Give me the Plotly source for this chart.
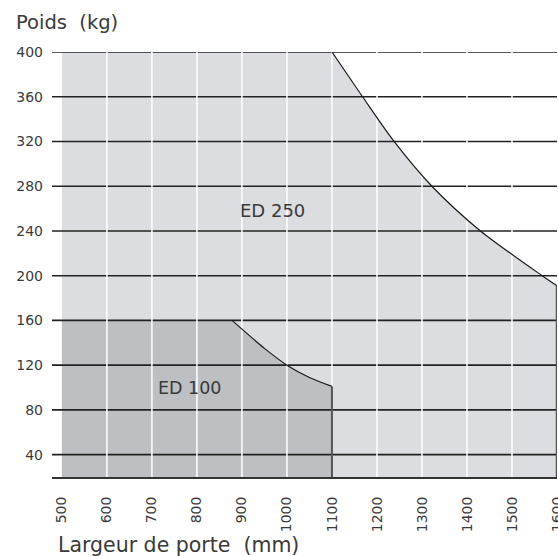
import plotly.graph_objects as go

# ---- data ----
x_ticks = [500, 600, 700, 800, 900, 1000, 1100, 1200, 1300, 1400, 1500, 1600]
y_ticks = [40, 80, 120, 160, 200, 240, 280, 320, 360, 400]

ed250_x = [500, 1100, 1168, 1238, 1322, 1430, 1567, 1600]
ed250_y = [400, 400, 360, 320, 280, 240, 200, 191]

ed100_x = [500, 878, 950, 1000, 1050, 1100]
ed100_y = [160, 160, 135, 120, 109, 101]

y_min, y_max = 20, 400
x_min, x_max = 478, 1600

label_250 = ("ED 250", 968, 258)
label_100 = ("ED 100", 785, 100)

FONT = "DejaVu Sans"
TXT = "#3a3a3a"

fig = go.Figure()


def add_area(xs, ys, color):
    # flat part (linear) and curved part (spline), both filled down to the axis
    fig.add_trace(go.Scatter(x=xs[:2], y=ys[:2], fill="tozeroy", fillcolor=color,
                             mode="lines", line=dict(width=0),
                             hoverinfo="skip", showlegend=False))
    fig.add_trace(go.Scatter(x=xs[1:], y=ys[1:], fill="tozeroy", fillcolor=color,
                             mode="lines", line=dict(width=0, shape="spline", smoothing=0.8),
                             hoverinfo="skip", showlegend=False))


add_area(ed250_x, ed250_y, "#dcdde0")
add_area(ed100_x, ed100_y, "#bebfc2")

# horizontal grid lines (drawn over fills)
hx, hy = [], []
for v in y_ticks:
    hx += [x_min, x_max, None]
    hy += [v, v, None]
fig.add_trace(go.Scatter(x=hx, y=hy, mode="lines",
                         line=dict(color="#222222", width=1.6),
                         hoverinfo="skip", showlegend=False))

# vertical white grid lines
vx, vy = [], []
for v in x_ticks[1:-1]:
    vx += [v, v, None]
    vy += [y_min, y_max, None]
fig.add_trace(go.Scatter(x=vx, y=vy, mode="lines",
                         line=dict(color="#ffffff", width=1.5),
                         hoverinfo="skip", showlegend=False))

# outlines
fig.add_trace(go.Scatter(x=ed250_x[1:], y=ed250_y[1:], mode="lines",
                         line=dict(color="#1a1a1a", width=1.2, shape="spline", smoothing=0.8),
                         hoverinfo="skip", showlegend=False))
fig.add_trace(go.Scatter(x=[ed250_x[-1], ed250_x[-1]], y=[ed250_y[-1], y_min],
                         mode="lines", line=dict(color="#555555", width=2.5),
                         hoverinfo="skip", showlegend=False))
fig.add_trace(go.Scatter(x=ed100_x[1:], y=ed100_y[1:], mode="lines",
                         line=dict(color="#1a1a1a", width=1.2, shape="spline", smoothing=0.8),
                         hoverinfo="skip", showlegend=False))
fig.add_trace(go.Scatter(x=[ed100_x[-1], ed100_x[-1]], y=[ed100_y[-1], y_min],
                         mode="lines", line=dict(color="#555555", width=2),
                         hoverinfo="skip", showlegend=False))

annotations = []
annotations.append(dict(x=label_250[1], y=label_250[2], xref="x", yref="y", text=label_250[0],
                        showarrow=False, font=dict(family=FONT, size=18, color=TXT)))
annotations.append(dict(x=label_100[1], y=label_100[2], xref="x", yref="y", text=label_100[0],
                        showarrow=False, font=dict(family=FONT, size=17.5, color=TXT)))
annotations.append(dict(xref="paper", yref="paper", x=-0.075, y=1.069,
                        xanchor="left", yanchor="middle", text="Poids&nbsp;&nbsp;(kg)",
                        showarrow=False, font=dict(family=FONT, size=19.5, color=TXT)))
annotations.append(dict(xref="paper", yref="paper", x=0.008, y=-0.16,
                        xanchor="left", yanchor="middle", text="Largeur de porte&nbsp;&nbsp;(mm)",
                        showarrow=False, font=dict(family=FONT, size=20.5, color=TXT)))

fig.update_layout(
    width=558, height=556,
    margin=dict(l=52, r=1, t=52, b=79),
    paper_bgcolor="white", plot_bgcolor="white",
    showlegend=False,
    annotations=annotations,
    xaxis=dict(range=[x_min, x_max], tickvals=x_ticks, ticktext=[str(v) for v in x_ticks],
               tickangle=-90, showgrid=False, zeroline=False, automargin=False,
               showline=True, linecolor="#333333", linewidth=2,
               ticks="", ticklabelstandoff=12, ticklabeloverflow="allow",
               tickfont=dict(family=FONT, size=14, color=TXT)),
    yaxis=dict(range=[y_min, y_max], tickvals=y_ticks, ticktext=[str(v) for v in y_ticks],
               showgrid=False, zeroline=False, showline=False, automargin=False,
               ticks="", ticklabelstandoff=8, ticklabeloverflow="allow",
               tickfont=dict(family=FONT, size=14, color=TXT)),
)

fig.write_html("out.html", config={"displayModeBar": False},
               post_script="document.body.style.margin='0';document.body.style.padding='0';")
